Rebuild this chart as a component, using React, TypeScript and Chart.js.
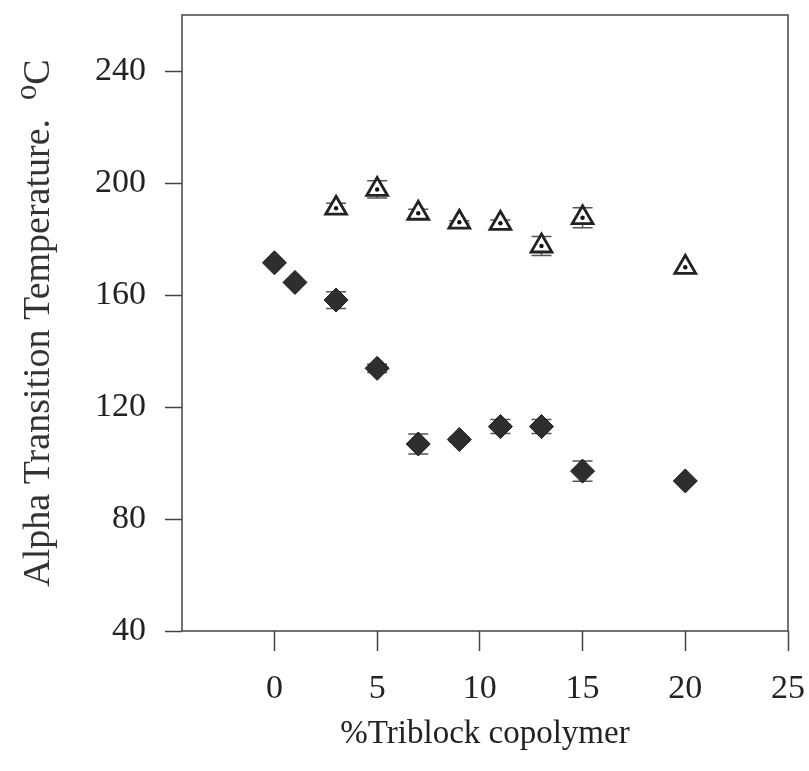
import React, { useEffect, useRef } from 'react';
import { Chart, registerables } from 'chart.js';
Chart.register(...registerables);

// % triblock copolymer for the filled-diamond series
const lowPct = [0, 1, 3, 5, 7, 9, 11, 13, 15, 20];
const lowTemp = [171.5, 164.5, 158.2, 133.8, 106.8, 108.4, 113.0, 113.0, 97.1, 93.6];
const lowErr = [0, 0, 3.0, 1.5, 3.6, 0.8, 2.5, 2.5, 3.6, 0];

// % triblock copolymer for the open-triangle series
const highPct = [3, 5, 7, 9, 11, 13, 15, 20];
const highTemp = [191.0, 197.7, 189.2, 186.0, 185.6, 177.5, 187.6, 169.9];
const highErr = [1.8, 3.1, 1.4, 0.5, 1.2, 3.4, 3.6, 0];

const xTicks = [0, 5, 10, 15, 20, 25];
const yTicks = [40, 80, 120, 160, 200, 240];
const X_MIN = -4.5;
const X_MAX = 25;
const Y_MIN = 40;
const Y_MAX = 260;

const xTitle = '%Triblock copolymer';
const yTitle = 'Alpha Transition Temperature.  \u2070C';

const FONT = "'Liberation Serif', 'Times New Roman', 'DejaVu Serif', serif";

const errorBarPlugin = {
  id: 'errorBars',
  beforeDatasetsDraw(chart: any) {
    const ctx = chart.ctx;
    const xs = chart.scales.x;
    const ys = chart.scales.y;
    ctx.save();
    chart.data.datasets.forEach((ds: any) => {
      if (!ds.errorBars) return;
      ds.data.forEach((p: any, i: number) => {
        const e = ds.errorBars[i];
        if (!e) return;
        const px = xs.getPixelForValue(p.x);
        const top = ys.getPixelForValue(p.y + e);
        const bot = ys.getPixelForValue(p.y - e);
        ctx.strokeStyle = '#555';
        ctx.lineWidth = 1.5;
        ctx.beginPath();
        ctx.moveTo(px, top);
        ctx.lineTo(px, bot);
        ctx.moveTo(px - 10, top);
        ctx.lineTo(px + 10, top);
        ctx.moveTo(px - 10, bot);
        ctx.lineTo(px + 10, bot);
        ctx.stroke();
      });
    });
    ctx.restore();
  },
};

const framePlugin = {
  id: 'frame',
  afterDraw(chart: any) {
    const { ctx, chartArea } = chart;
    ctx.save();
    ctx.strokeStyle = '#444';
    ctx.lineWidth = 1.5;
    ctx.strokeRect(chartArea.left, chartArea.top, chartArea.right - chartArea.left, chartArea.bottom - chartArea.top);
    ctx.restore();
  },
};

export default function App() {
  const ref = useRef<HTMLCanvasElement | null>(null);

  useEffect(() => {
    document.body.style.margin = '0';
    const canvas = ref.current;
    if (!canvas) return;
    const lowData = lowPct.map((x, i) => ({ x, y: lowTemp[i] }));
    const highData = highPct.map((x, i) => ({ x, y: highTemp[i] }));
    const chart = new Chart(canvas, {
      type: 'scatter',
      data: {
        datasets: [
          {
            label: 'dots',
            data: highData,
            pointStyle: 'circle',
            pointRadius: 2.2,
            pointBackgroundColor: '#111',
            pointBorderWidth: 0,
            order: 0,
          } as any,
          {
            label: 'high',
            data: highData,
            errorBars: highErr,
            pointStyle: 'triangle',
            pointRadius: 12,
            pointBackgroundColor: '#ffffff',
            pointBorderColor: '#222',
            pointBorderWidth: 2.8,
            order: 1,
          } as any,
          {
            label: 'low',
            data: lowData,
            errorBars: lowErr,
            pointStyle: 'rectRot',
            pointRadius: 12,
            pointBackgroundColor: '#2e2e2e',
            pointBorderColor: '#1a1a1a',
            pointBorderWidth: 1,
            order: 2,
          } as any,
        ],
      },
      options: {
        animation: false,
        responsive: true,
        maintainAspectRatio: false,
        layout: { padding: { left: 0, right: 21, top: 15, bottom: 0 } },
        plugins: {
          legend: { display: false },
          tooltip: { enabled: false },
        },
        scales: {
          x: {
            type: 'linear',
            min: X_MIN,
            max: X_MAX,
            afterBuildTicks: (s: any) => {
              s.ticks = xTicks.map((v) => ({ value: v }));
            },
            afterFit: (s: any) => {
              s.height = 140;
              s.paddingLeft = 0;
              s.paddingRight = 0;
            },
            grid: {
              drawOnChartArea: false,
              drawTicks: true,
              tickLength: 20,
              tickColor: '#444',
              tickWidth: 1.5,
            },
            border: { display: false },
            ticks: {
              color: '#222',
              padding: 18,
              maxRotation: 0,
              font: { family: FONT, size: 34 },
            },
            title: {
              display: true,
              text: xTitle,
              color: '#222',
              font: { family: FONT, size: 33 },
              padding: { top: 0, bottom: 17 },
            },
          },
          y: {
            type: 'linear',
            min: Y_MIN,
            max: Y_MAX,
            afterBuildTicks: (s: any) => {
              s.ticks = yTicks.map((v) => ({ value: v }));
            },
            afterFit: (s: any) => {
              s.width = 182;
              s.paddingTop = 0;
              s.paddingBottom = 0;
            },
            grid: {
              drawOnChartArea: false,
              drawTicks: true,
              tickLength: 17,
              tickColor: '#444',
              tickWidth: 1.5,
            },
            border: { display: false },
            ticks: {
              color: '#222',
              padding: 19,
              font: { family: FONT, size: 34 },
            },
            title: {
              display: true,
              text: yTitle,
              color: '#333',
              font: { family: FONT, size: 38 },
              padding: { top: 16, bottom: 0 },
            },
          },
        },
      },
      plugins: [errorBarPlugin, framePlugin],
    } as any);
    return () => chart.destroy();
  }, []);

  return (
    <div style={{ position: 'absolute', left: 0, top: 0, width: 809, height: 771 }}>
      <canvas ref={ref} />
    </div>
  );
}
